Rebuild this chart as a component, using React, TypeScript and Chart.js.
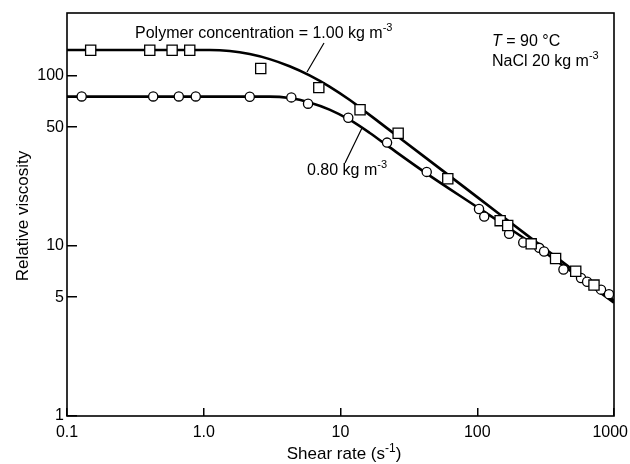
import React, { useEffect, useRef } from 'react';
import { Chart, registerables } from 'chart.js';

Chart.register(...registerables);

const FONT = '"Liberation Sans", Arial, sans-serif';

// Measured points, polymer concentration 1.00 kg m^-3 (squares)
const shearSquares = [0.149, 0.403, 0.587, 0.79, 2.61, 6.94, 13.9, 26.4, 60.9, 147, 167, 248, 374, 525, 714];
const viscSquares = [142, 142, 142, 142, 110.7, 85.5, 63.4, 46.1, 24.9, 14.1, 13.2, 10.3, 8.44, 7.1, 5.89];

// Measured points, polymer concentration 0.80 kg m^-3 (circles)
const shearCircles = [0.128, 0.427, 0.657, 0.874, 2.17, 4.37, 5.79, 11.4, 21.9, 42.7, 103, 112.5, 171, 217, 284, 308, 427, 574, 636, 804, 919];
const viscCircles = [75.9, 75.9, 75.9, 75.9, 75.5, 74.9, 68.8, 56.9, 40.6, 27.3, 16.5, 14.9, 11.8, 10.5, 9.76, 9.28, 7.27, 6.48, 6.17, 5.54, 5.21];

// Fitted curves
const curveShear100 = [0.1, 1.106, 1.548, 2.167, 3.032, 4.243, 5.938, 8.311, 11.63, 13.76, 19.26, 26.96, 52.8, 103.4, 283.5, 1000];
const curveVisc100 = [142.36, 142.36, 140.4, 134.7, 125.8, 114.2, 100.95, 86.7, 72.5, 65.6, 53.4, 43.4, 28.73, 19.01, 10.23, 4.77];

const curveShear080 = [0.1, 3.032, 4.243, 5.938, 8.311, 11.63, 16.28, 22.79, 42.43, 103.4, 283.5, 1000];
const curveVisc080 = [75.7, 75.7, 74.23, 69.99, 63.48, 55.37, 46.42, 38.16, 26.77, 16.64, 9.666, 4.642];

// Axis ticks
const xTickValues = [0.1, 1, 10, 100, 1000];
const xTickLabels = ['0.1', '1.0', '10', '100', '1000'];
const yTickValues = [1, 5, 10, 50, 100];
const yTickLabels = ['1', '5', '10', '50', '100'];

type Seg = { t: string; sup?: boolean; italic?: boolean };

function segFont(s: Seg, size: number) {
  const sz = s.sup ? Math.round(size * 0.7) : size;
  return `${s.italic ? 'italic ' : ''}${sz}px ${FONT}`;
}

function measureRich(ctx: CanvasRenderingContext2D, segs: Seg[], size: number) {
  let w = 0;
  for (const s of segs) {
    ctx.font = segFont(s, size);
    w += ctx.measureText(s.t).width;
  }
  return w;
}

function drawRich(ctx: CanvasRenderingContext2D, x: number, y: number, segs: Seg[], size: number) {
  let cx = x;
  for (const s of segs) {
    ctx.font = segFont(s, size);
    ctx.fillText(s.t, cx, s.sup ? y - size * 0.42 : y);
    cx += ctx.measureText(s.t).width;
  }
  return cx;
}

const decorPlugin = {
  id: 'decor',
  beforeDatasetsDraw(chart: any) {
    const { ctx, chartArea } = chart;
    const { left, top, right, bottom } = chartArea;
    ctx.save();
    ctx.strokeStyle = '#000';
    ctx.lineWidth = 1.6;
    ctx.strokeRect(left, top, right - left, bottom - top);
    ctx.restore();
  },
  afterDatasetsDraw(chart: any) {
    const { ctx, chartArea } = chart;
    const xs = chart.scales.x;
    ctx.save();
    ctx.fillStyle = '#000';
    ctx.strokeStyle = '#000';
    ctx.textAlign = 'left';
    ctx.textBaseline = 'alphabetic';

    // x tick labels, placed by the x scale
    ctx.font = `16px ${FONT}`;
    ctx.textAlign = 'center';
    xTickValues.forEach((v, i) => {
      const label = xTickLabels[i];
      const w = ctx.measureText(label).width;
      let px = xs.getPixelForValue(v);
      if (px + w / 2 > chart.width - 2) px = chart.width - 2 - w / 2;
      ctx.fillText(label, px, chartArea.bottom + 21);
    });
    ctx.textAlign = 'left';

    drawRich(ctx, 135, 37.5, [{ t: 'Polymer concentration = 1.00 kg m' }, { t: '-3', sup: true }], 16);
    drawRich(ctx, 307, 175, [{ t: '0.80 kg m' }, { t: '-3', sup: true }], 16);
    drawRich(ctx, 492, 46, [{ t: 'T', italic: true }, { t: ' = 90 °C' }], 16);
    drawRich(ctx, 492, 66, [{ t: 'NaCl 20 kg m' }, { t: '-3', sup: true }], 16);

    ctx.lineWidth = 1.2;
    ctx.beginPath();
    ctx.moveTo(324, 43);
    ctx.lineTo(307, 72);
    ctx.moveTo(362, 128);
    ctx.lineTo(345, 163);
    ctx.stroke();

    // y axis title
    ctx.save();
    ctx.translate(21.5, 216);
    ctx.rotate(-Math.PI / 2);
    ctx.textAlign = 'center';
    ctx.font = `17px ${FONT}`;
    ctx.fillText('Relative viscosity', 0, 6);
    ctx.restore();

    // x axis title
    const xt: Seg[] = [{ t: 'Shear rate (s' }, { t: '-1', sup: true }, { t: ')' }];
    const w = measureRich(ctx, xt, 17);
    drawRich(ctx, 344 - w / 2, 459, xt, 17);

    ctx.restore();
  },
};

export default function App() {
  const canvasRef = useRef<HTMLCanvasElement | null>(null);

  useEffect(() => {
    if (!canvasRef.current) return;
    const toXY = (xs: number[], ys: number[]) => xs.map((x, i) => ({ x, y: ys[i] }));

    const chart = new Chart(canvasRef.current, {
      type: 'scatter',
      data: {
        datasets: [
          {
            label: '1.00 kg m-3 (measured)',
            data: toXY(shearSquares, viscSquares),
            pointStyle: 'rect',
            pointRadius: 7.2,
            pointBorderWidth: 1.3,
            pointBackgroundColor: '#fff',
            pointBorderColor: '#000',
            showLine: false,
            order: 0,
          },
          {
            label: '0.80 kg m-3 (measured)',
            data: toXY(shearCircles, viscCircles),
            pointStyle: 'circle',
            pointRadius: 4.6,
            pointBorderWidth: 1.3,
            pointBackgroundColor: '#fff',
            pointBorderColor: '#000',
            showLine: false,
            order: 1,
          },
          {
            label: '1.00 kg m-3 (curve)',
            data: toXY(curveShear100, curveVisc100),
            showLine: true,
            pointRadius: 0,
            borderColor: '#000',
            borderWidth: 2.6,
            cubicInterpolationMode: 'monotone',
            order: 2,
          },
          {
            label: '0.80 kg m-3 (curve)',
            data: toXY(curveShear080, curveVisc080),
            showLine: true,
            pointRadius: 0,
            borderColor: '#000',
            borderWidth: 2.6,
            cubicInterpolationMode: 'monotone',
            order: 3,
          },
        ],
      },
      options: {
        responsive: false,
        animation: false,
        devicePixelRatio: 1,
        layout: { padding: { left: 0, right: 16, top: 13, bottom: 0 } },
        plugins: {
          legend: { display: false },
          tooltip: { enabled: false },
        },
        scales: {
          x: {
            type: 'logarithmic',
            position: 'bottom',
            min: 0.1,
            max: 1000,
            afterBuildTicks: (s: any) => {
              s.ticks = xTickValues.map((v) => ({ value: v }));
            },
            afterFit: (s: any) => {
              s.height = 48;
              s.paddingLeft = 0;
              s.paddingRight = 0;
            },
            ticks: {
              display: false,
              autoSkip: false,
              maxRotation: 0,
              minRotation: 0,
            },
            grid: {
              drawOnChartArea: false,
              drawTicks: true,
              tickLength: -8,
              color: '#000',
              lineWidth: 1.5,
            },
            border: { display: false },
          },
          y: {
            type: 'logarithmic',
            position: 'left',
            min: 1,
            max: 235,
            afterBuildTicks: (s: any) => {
              s.ticks = yTickValues.map((v) => ({ value: v }));
            },
            afterFit: (s: any) => {
              s.width = 67;
              s.paddingTop = 0;
              s.paddingBottom = 0;
            },
            ticks: {
              autoSkip: false,
              padding: 13,
              color: '#000',
              font: { family: FONT, size: 16 },
              callback: (v: any) => yTickLabels[yTickValues.indexOf(Number(v))] ?? '',
            },
            grid: {
              drawOnChartArea: false,
              drawTicks: true,
              tickLength: -10,
              color: '#000',
              lineWidth: 1.5,
            },
            border: { display: false },
          },
        },
      },
      plugins: [decorPlugin],
    } as any);

    return () => chart.destroy();
  }, []);

  return (
    <div style={{ position: 'fixed', left: 0, top: 0, width: 630, height: 464, background: '#fff' }}>
      <canvas ref={canvasRef} width={630} height={464} style={{ width: 630, height: 464 }} />
    </div>
  );
}
